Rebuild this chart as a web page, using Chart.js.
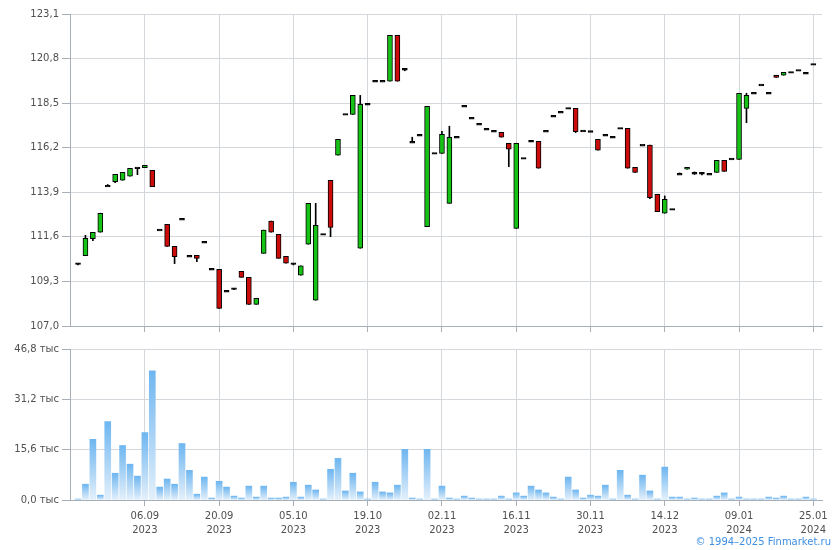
<!DOCTYPE html>
<html>
<head>
<meta charset="utf-8">
<script src="https://cdn.jsdelivr.net/npm/chart.js@4.4.1/dist/chart.umd.min.js"></script>
<style>
  html, body { margin: 0; padding: 0; background: #fff; }
  #wrap { position: relative; width: 840px; height: 550px; overflow: hidden; }
  #cPrice { position: absolute; left: 0; top: 0; }
  #cVol { position: absolute; left: 0; top: 340px; }
  #copy { position: absolute; right: 9px; top: 536px; font: 10px "DejaVu Sans", sans-serif; color: #3d8fe3; }
</style>
</head>
<body>
<div id="wrap">
  <canvas id="cPrice" width="840" height="340"></canvas>
  <canvas id="cVol" width="840" height="210"></canvas>
  <div id="copy">© 1994–2025 Finmarket.ru</div>
</div>
<script>
// цены (open / high / low / close), объём в тыс.
const openP = [110.22,110.63,111.51,111.84,114.22,114.45,114.52,114.73,115.16,115.17,
115.03,111.95,112.25,111.11,112.51,110.60,110.65,111.32,109.93,109.93,
108.79,108.93,109.82,109.51,108.12,110.75,112.42,111.73,110.60,110.22,
109.62,111.22,108.33,111.73,114.52,115.81,117.92,117.92,111.01,118.44,
119.63,119.63,119.63,122.00,120.25,116.48,116.84,112.12,115.91,115.91,
113.33,116.74,118.34,117.72,117.41,117.15,117.05,116.99,116.43,112.04,
115.65,116.53,116.53,117.05,117.82,118.03,118.23,118.23,117.06,117.04,
116.63,116.84,116.74,117.20,117.20,115.19,116.33,116.33,113.80,112.82,
113.02,114.83,115.09,114.88,114.88,114.83,114.93,115.55,115.62,115.60,
118.23,119.01,119.44,119.01,119.94,119.94,120.09,120.19,120.04,120.50];

const highP = [110.22,111.68,111.84,112.82,114.30,114.83,114.93,115.14,115.16,115.29,
115.03,111.95,112.25,111.11,112.51,110.60,110.65,111.32,109.93,109.93,
108.79,108.93,109.82,109.51,108.43,111.95,112.42,111.73,110.60,110.22,
110.10,113.33,113.33,111.73,114.52,116.63,117.92,118.90,118.90,118.44,
119.63,119.63,122.00,122.00,120.25,116.74,116.84,118.34,115.91,117.05,
117.31,116.74,118.34,117.72,117.41,117.15,117.05,116.99,116.43,116.43,
115.65,116.53,116.53,117.05,117.82,118.03,118.23,118.23,117.06,117.04,
116.63,116.84,116.74,117.20,117.20,115.19,116.33,116.33,113.80,113.71,
113.02,114.90,115.19,114.95,114.88,114.83,115.55,115.55,115.62,119.01,
119.01,119.01,119.44,119.01,119.94,120.09,120.09,120.19,120.04,120.50];

const lowP = [110.15,110.63,111.40,111.84,114.22,114.40,114.52,114.73,114.81,115.17,
114.19,111.95,111.11,110.22,112.51,110.60,110.32,111.32,109.93,107.91,
108.79,108.88,109.51,108.12,108.12,110.75,111.84,110.49,110.24,110.15,
109.62,111.22,108.33,111.73,111.61,115.81,117.92,117.92,111.01,118.44,
119.63,119.63,119.63,119.63,120.17,116.48,116.84,112.12,115.91,115.91,
113.33,116.74,118.34,117.72,117.41,117.15,117.05,116.74,115.22,112.04,
115.65,116.53,115.14,117.05,117.82,118.03,118.23,116.98,117.06,117.04,
116.07,116.84,116.74,117.20,115.14,114.93,116.33,113.57,112.90,112.82,
113.02,114.83,115.09,114.82,114.80,114.83,114.93,114.98,115.62,115.60,
117.49,119.01,119.44,119.01,119.83,119.94,120.09,120.19,120.04,120.50];

const closeP = [110.22,111.53,111.84,112.82,114.22,114.83,114.93,115.14,115.16,115.29,
114.19,111.95,111.11,110.58,112.51,110.60,110.49,111.32,109.93,107.91,
108.79,108.93,109.51,108.12,108.43,111.95,111.84,110.49,110.24,110.22,
110.10,113.33,112.20,111.73,112.09,116.63,117.92,118.90,118.44,118.44,
119.63,119.63,122.00,119.63,120.25,116.48,116.84,118.34,115.91,116.89,
116.74,116.74,118.34,117.72,117.41,117.15,117.05,116.74,116.12,116.43,
115.65,116.53,115.14,117.05,117.82,118.03,118.23,117.03,117.06,117.04,
116.07,116.84,116.74,117.20,115.14,114.93,116.33,113.62,112.90,113.54,
113.02,114.83,115.19,114.88,114.88,114.83,115.55,114.98,115.62,119.01,
118.90,119.01,119.44,119.01,119.83,120.09,120.09,120.19,120.04,120.50];

const volume = [0.3,4.9,18.8,1.5,24.3,8.3,16.9,11.1,7.4,20.9,
40.0,4.0,6.5,4.9,17.5,9.2,1.8,7.1,0.6,5.8,
4.0,1.2,0.6,4.3,0.9,4.3,0.6,0.6,0.9,5.5,
0.9,4.6,3.1,0.3,9.5,12.9,2.8,8.3,2.5,0.3,
5.5,2.5,2.2,4.6,15.7,0.6,0.3,15.7,0.3,4.3,
0.6,0.3,1.2,0.6,0.3,0.3,0.3,1.2,0.3,2.2,
1.2,4.3,3.1,2.2,0.9,0.3,7.1,3.1,0.6,1.5,
1.2,4.6,0.3,9.2,1.5,0.3,7.7,2.8,0.3,10.2,
0.9,0.9,0.3,0.6,0.3,0.3,1.2,2.2,0.3,0.9,
0.3,0.3,0.3,0.9,0.6,1.2,0.3,0.3,0.9,0.3];

// подписи оси X (номер торгового дня -> дата)
const tickPos = [9, 19, 29, 39, 49, 59, 69, 79, 89, 99];
const tickDates = ['06.09','20.09','05.10','19.10','02.11','16.11','30.11','14.12','09.01','25.01'];
const tickYears = ['2023','2023','2023','2023','2023','2023','2023','2023','2024','2024'];
const priceTicks = [107.0, 109.3, 111.6, 113.9, 116.2, 118.5, 120.8, 123.1];
const volTicks = [0, 15.6, 31.2, 46.8];

const GRID = '#d4d8dc';
const AXIS = '#a8aeb6';
const TXT = '#505050';
const FONT = { family: 'DejaVu Sans', size: 10 };

const xMin = -1.08, xMax = 100.17;

function fmt(v) { return v.toFixed(1).replace('.', ','); }

function xAxis(showLabels) {
  return {
    type: 'linear', min: xMin, max: xMax, offset: false,
    afterBuildTicks: s => { s.ticks = tickPos.map(v => ({ value: v })); },
    grid: { color: GRID, tickColor: AXIS, tickLength: 6, offset: false },
    border: { color: AXIS },
    ticks: {
      display: showLabels, maxRotation: 0, autoSkip: false, padding: 4,
      color: TXT, font: { family: 'DejaVu Sans', size: 10, lineHeight: 1.35 },
      callback: (v, i) => [tickDates[i], tickYears[i]]
    },
    afterFit: s => { if (showLabels) s.height = 40; }
  };
}

let wicks = [];
let bodies = [];
let bodyColors = [];
for (let i = 0; i < openP.length; i++) {
  let o = openP[i], c = closeP[i];
  wicks.push({ x: i, y: [lowP[i], highP[i]] });
  if (Math.abs(o - c) < 0.04) {
    bodies.push({ x: i, y: [c - 0.045, c + 0.045] });
    bodyColors.push('#000');
  } else {
    bodies.push({ x: i, y: [o, c] });
    bodyColors.push(c > o ? '#16c216' : '#cc0b0b');
  }
}

new Chart(document.getElementById('cPrice'), {
  type: 'bar',
  data: {
    datasets: [
      { data: wicks, backgroundColor: '#000', barThickness: 1, grouped: false, order: 2 },
      { data: bodies, backgroundColor: bodyColors, borderColor: '#000', borderWidth: 1,
        borderSkipped: false, barThickness: 5, grouped: false, order: 1 }
    ]
  },
  options: {
    responsive: false, animation: false, devicePixelRatio: 1,
    layout: { padding: { left: 0, right: 18, top: 14, bottom: 8 } },
    plugins: { legend: { display: false }, tooltip: { enabled: false } },
    scales: {
      x: xAxis(false),
      y: {
        min: 107.0, max: 123.1,
        afterBuildTicks: s => { s.ticks = priceTicks.map(v => ({ value: v })); },
        afterFit: s => { s.width = 70; },
        grid: { color: GRID, tickColor: AXIS, tickLength: 8 },
        border: { color: AXIS },
        ticks: { color: TXT, font: FONT, padding: 3, callback: v => fmt(v) }
      }
    }
  }
});

function volColor(ctx) {
  const chart = ctx.chart;
  if (!chart.chartArea || ctx.dataIndex === undefined) return '#9ccbf4';
  const y = chart.scales.y;
  const v = volume[ctx.dataIndex];
  const top = y.getPixelForValue(v);
  const bot = y.getPixelForValue(0);
  const g = chart.ctx.createLinearGradient(0, top, 0, bot);
  g.addColorStop(0, '#6eb6f0');
  g.addColorStop(1, '#e4f0fb');
  return g;
}

new Chart(document.getElementById('cVol'), {
  type: 'bar',
  data: {
    datasets: [
      { data: volume.map((v, i) => ({ x: i, y: v })), backgroundColor: volColor, barThickness: 6 }
    ]
  },
  options: {
    responsive: false, animation: false, devicePixelRatio: 1,
    layout: { padding: { left: 0, right: 18, top: 9, bottom: 10 } },
    plugins: { legend: { display: false }, tooltip: { enabled: false } },
    scales: {
      x: xAxis(true),
      y: {
        min: 0, max: 46.8,
        afterBuildTicks: s => { s.ticks = volTicks.map(v => ({ value: v })); },
        afterFit: s => { s.width = 70; },
        grid: { color: GRID, tickColor: AXIS, tickLength: 8 },
        border: { color: AXIS },
        ticks: { color: TXT, font: FONT, padding: 3, callback: v => fmt(v) + ' тыс' }
      }
    }
  }
});
</script>
</body>
</html>
